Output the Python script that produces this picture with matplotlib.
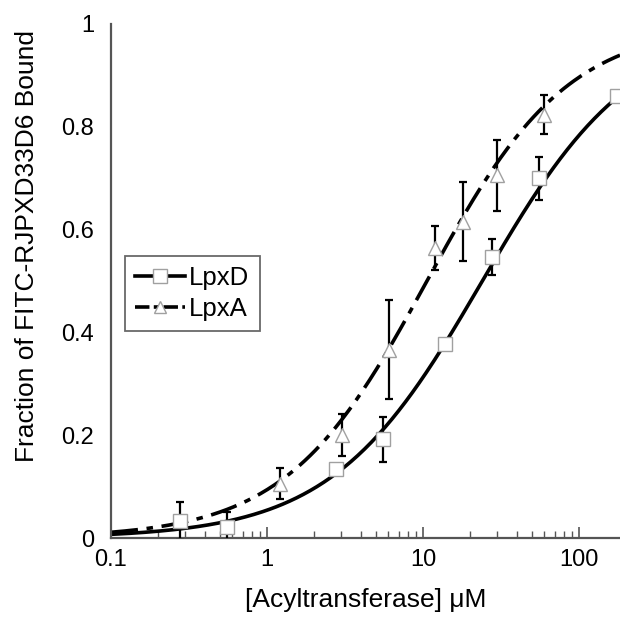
import numpy as np
import matplotlib.pyplot as plt
from matplotlib.ticker import FixedLocator, NullFormatter

plt.rcParams['font.family'] = ['Liberation Sans', 'DejaVu Sans']

# data
lpxd_conc = [0.277, 0.552, 2.77, 5.52, 13.8, 27.5, 55.7, 175]
lpxd_frac = [0.034, 0.021, 0.134, 0.192, 0.377, 0.547, 0.700, 0.859]
lpxd_err = [0.037, 0.030, 0.0, 0.044, 0.0, 0.035, 0.042, 0.0]

lpxa_conc = [1.21, 3.01, 6.03, 11.9, 18.1, 29.9, 60.0]
lpxa_frac = [0.106, 0.200, 0.366, 0.564, 0.615, 0.706, 0.823]
lpxa_err = [0.030, 0.041, 0.096, 0.043, 0.077, 0.069, 0.038]

# fitted binding curve parameters (Hill), estimated from the drawn fits
lpxd_kd, lpxd_n = 24.0, 0.90
lpxa_kd, lpxa_n = 10.6, 0.96

x_ticks = [0.1, 1, 10, 100]
x_ticklabels = ['0.1', '1', '10', '100']
y_ticks = [0, 0.2, 0.4, 0.6, 0.8, 1]
y_ticklabels = ['0', '0.2', '0.4', '0.6', '0.8', '1']


def hill(x, kd, n):
    return x**n / (kd**n + x**n)


LW = 2.6
DASH = (7.5, 2.4, 1.8, 2.4)

fig = plt.figure(figsize=(6.2, 6.18), dpi=100)
ax = fig.add_axes([0.179, 0.1294, 0.821, 0.832])

xs = np.logspace(-1, np.log10(183), 300)
ax.plot(xs, hill(xs, lpxd_kd, lpxd_n), color='black', lw=LW, zorder=2)
ax.plot(xs, hill(xs, lpxa_kd, lpxa_n), color='black', lw=LW,
        dashes=DASH, zorder=2)

# error bars
ax.errorbar(lpxd_conc, lpxd_frac, yerr=lpxd_err, fmt='none', ecolor='black',
            elinewidth=1.6, capsize=3, capthick=1.6, zorder=3)
ax.errorbar(lpxa_conc, lpxa_frac, yerr=lpxa_err, fmt='none', ecolor='black',
            elinewidth=1.6, capsize=3, capthick=1.6, zorder=3)

# markers
ax.plot(lpxd_conc, lpxd_frac, 's', ms=10, mfc='white', mec='#a0a0a0',
        mew=1.0, zorder=4, clip_on=False)
ax.plot(lpxa_conc, lpxa_frac, '^', ms=10, mfc='white', mec='#a0a0a0',
        mew=1.0, zorder=4)

# legend handles
h1, = ax.plot([], [], color='black', lw=LW, marker='s', ms=10,
              mfc='white', mec='#a0a0a0', mew=1.0)
h2, = ax.plot([], [], color='black', lw=LW, dashes=(4, 1.2, 1.5, 1.2),
              marker='^', ms=9, mfc='white', mec='#a0a0a0', mew=1.0)
leg = ax.legend([h1, h2], ['LpxD', 'LpxA'], loc='upper left',
                bbox_to_anchor=(0.0275, 0.5486), fontsize=18.5, frameon=True,
                fancybox=False, edgecolor='#444444', handlelength=1.95,
                handletextpad=0.15, borderpad=0.4, labelspacing=0.25,
                borderaxespad=0)
leg.get_frame().set_linewidth(1.3)

ax.set_xscale('log')
ax.set_xlim(0.1, 183)
ax.set_ylim(0, 1)
ax.xaxis.set_major_locator(FixedLocator(x_ticks))
ax.set_xticklabels(x_ticklabels)
ax.set_yticks(y_ticks)
ax.set_yticklabels(y_ticklabels)
ax.xaxis.set_minor_formatter(NullFormatter())

ax.tick_params(axis='x', which='major', direction='in', length=8, width=1.2,
               color='#555555', labelsize=17, pad=8)
ax.tick_params(axis='x', which='minor', direction='in', length=5, width=1.0,
               color='#555555')
ax.tick_params(axis='y', length=0, labelsize=17, pad=12)

for s in ['top', 'right']:
    ax.spines[s].set_visible(False)
for s in ['left', 'bottom']:
    ax.spines[s].set_color('#555555')
    ax.spines[s].set_linewidth(1.6)

ax.set_xlabel('[Acyltransferase] μM', fontsize=19, labelpad=12)
ax.set_ylabel('Fraction of FITC-RJPXD33D6 Bound', fontsize=19)
ax.yaxis.set_label_coords(-0.142, 0.568)

fig.savefig('out.png', dpi=100)
